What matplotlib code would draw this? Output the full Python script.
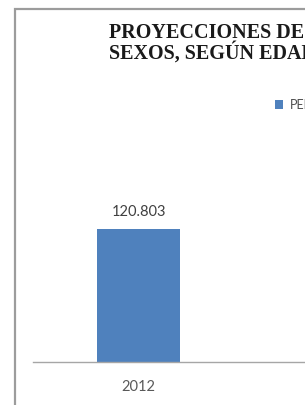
import matplotlib
matplotlib.use('Agg')
import matplotlib.pyplot as plt
from matplotlib.patches import Rectangle

# data (only the 2012 column is visible in this crop)
years = ['2012']
values = [120803]
value_labels = ['120.803']
series_name = 'PERSONAS'
title_lines = ['PROYECCIONES DE POBLACIÓN, AMBOS', 'SEXOS, SEGÚN EDADES']

W, H = 305, 405
bar_color = '#4f81bd'

fig = plt.figure(figsize=(W / 100, H / 100), dpi=100)
fig.patch.set_facecolor('white')

# chart frame (extends past the crop on the right and bottom)
frame = Rectangle((14.5 / W, -0.1), 1.2, 1 - 8.5 / H + 0.1, transform=fig.transFigure,
                  fill=False, edgecolor='#9c9c9c', linewidth=1.6, zorder=0)
fig.patches.append(frame)

# title, two lines, cut at the right edge
fig.text(109 / W, 1 - 42 / H, '\n'.join(title_lines), family='Liberation Serif',
         weight='bold', fontsize=14.5, color='#1a1a1a', ha='left', va='center',
         linespacing=0.95)

ax = fig.add_axes([33 / W, 1 - 362 / H, (W - 33) / W, 232 / H])
x = list(range(len(years)))
bars = ax.bar(x, values, width=0.6, color=bar_color, label=series_name, zorder=2)
ax.bar_label(bars, labels=value_labels, padding=7, fontsize=10.5, family='Lato', color='#404040')

ax.set_xlim(-0.763, 1.204)
ax.set_ylim(0, 210700)
ax.set_xticks(x)
ax.set_xticklabels(years, fontsize=10.5, family='Lato', color='#595959')
ax.tick_params(axis='x', length=0, pad=13)
ax.set_yticks([])
for s in ['top', 'right', 'left']:
    ax.spines[s].set_visible(False)
ax.spines['bottom'].set_color('#a6a6a6')
ax.spines['bottom'].set_linewidth(1.0)
ax.patch.set_alpha(0)

fig.legend(handles=[bars], labels=[series_name], loc='center left',
           bbox_to_anchor=(275 / W, 1 - 105 / H), frameon=False,
           prop={'family': 'Lato', 'size': 9}, labelcolor='#4d4d4d',
           handlelength=0.64, handleheight=0.64, handletextpad=0.55,
           borderpad=0, borderaxespad=0)

fig.savefig('out.png', dpi=100, facecolor='white')
